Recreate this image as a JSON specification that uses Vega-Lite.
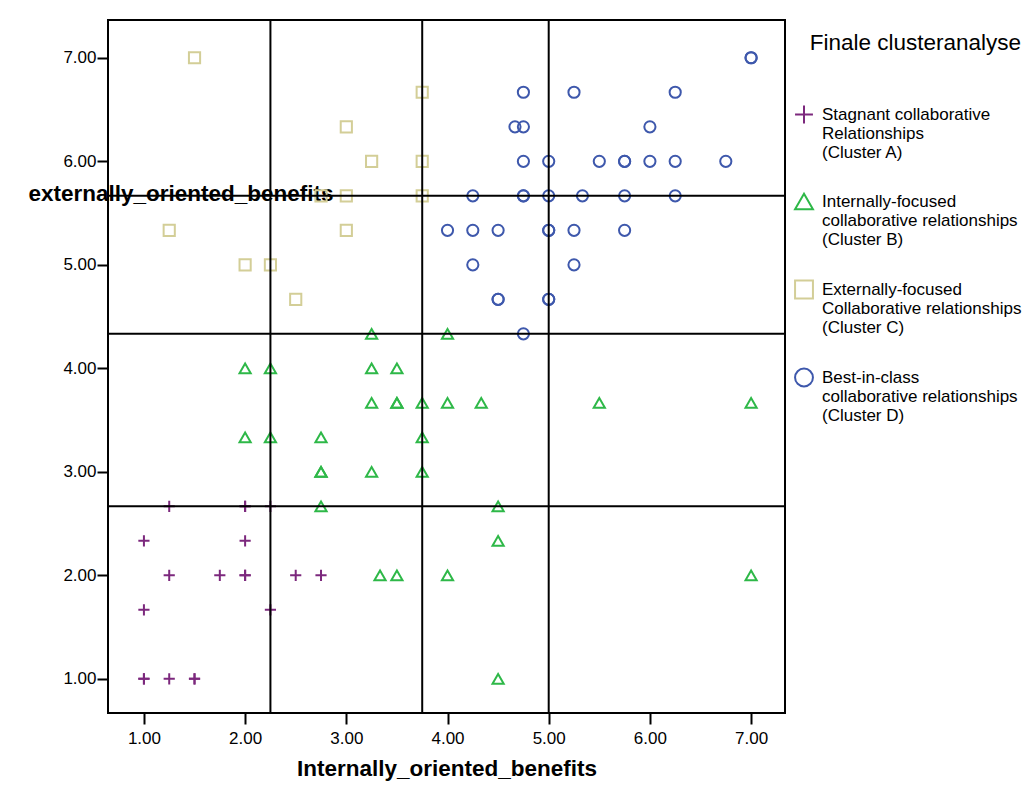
{
  "$schema": "https://vega.github.io/schema/vega-lite/v6.json",
  "width": 677,
  "height": 693,
  "autosize": {"type": "none"},
  "padding": {"left": 108, "top": 20, "right": 249, "bottom": 89},
  "background": "white",
  "config": {
    "font": "Liberation Sans",
    "view": {"stroke": "#000", "strokeWidth": 2},
    "axis": {
      "grid": false, "domain": false, "tickColor": "#000", "tickWidth": 2, "tickSize": 11,
      "labelColor": "#000", "labelFontSize": 17, "labelFont": "Liberation Sans",
      "titleColor": "#000", "titleFontSize": 22.5, "titleFontWeight": "bold", "titleFont": "Liberation Sans"
    },
    "legend": {
      "orient": "none", "legendX": 686, "legendY": 12, "padding": 0,
      "titleFontSize": 22.5, "titleFontWeight": "normal", "titleColor": "#000", "titleFont": "Liberation Sans",
      "titleAnchor": "end", "titlePadding": 50, "titleLimit": 0,
      "labelFontSize": 17, "labelColor": "#000", "labelLimit": 0, "labelOffset": 8, "labelFont": "Liberation Sans",
      "symbolSize": 320, "symbolStrokeWidth": 2, "rowPadding": 29
    }
  },
  "datasets": {
    "pts": [
      {"x": 1.25, "y": 2.6667, "c": "A"}, {"x": 2.0, "y": 2.6667, "c": "A"}, {"x": 2.0, "y": 2.6667, "c": "A"},
      {"x": 2.25, "y": 2.6667, "c": "A"}, {"x": 1.0, "y": 2.3333, "c": "A"}, {"x": 2.0, "y": 2.3333, "c": "A"},
      {"x": 1.25, "y": 2.0, "c": "A"}, {"x": 1.75, "y": 2.0, "c": "A"}, {"x": 2.0, "y": 2.0, "c": "A"},
      {"x": 2.0, "y": 2.0, "c": "A"}, {"x": 2.5, "y": 2.0, "c": "A"}, {"x": 2.75, "y": 2.0, "c": "A"},
      {"x": 1.0, "y": 1.6667, "c": "A"}, {"x": 2.25, "y": 1.6667, "c": "A"}, {"x": 1.0, "y": 1.0, "c": "A"},
      {"x": 1.0, "y": 1.0, "c": "A"}, {"x": 1.25, "y": 1.0, "c": "A"}, {"x": 1.5, "y": 1.0, "c": "A"},
      {"x": 1.5, "y": 1.0, "c": "A"},
      {"x": 3.25, "y": 4.3333, "c": "B"}, {"x": 4.0, "y": 4.3333, "c": "B"}, {"x": 2.0, "y": 4.0, "c": "B"},
      {"x": 2.25, "y": 4.0, "c": "B"}, {"x": 3.25, "y": 4.0, "c": "B"}, {"x": 3.5, "y": 4.0, "c": "B"},
      {"x": 3.25, "y": 3.6667, "c": "B"}, {"x": 3.5, "y": 3.6667, "c": "B"}, {"x": 3.5, "y": 3.6667, "c": "B"},
      {"x": 3.75, "y": 3.6667, "c": "B"}, {"x": 4.0, "y": 3.6667, "c": "B"}, {"x": 4.3333, "y": 3.6667, "c": "B"},
      {"x": 5.5, "y": 3.6667, "c": "B"}, {"x": 7.0, "y": 3.6667, "c": "B"}, {"x": 2.0, "y": 3.3333, "c": "B"},
      {"x": 2.25, "y": 3.3333, "c": "B"}, {"x": 2.75, "y": 3.3333, "c": "B"}, {"x": 3.75, "y": 3.3333, "c": "B"},
      {"x": 2.75, "y": 3.0, "c": "B"}, {"x": 2.75, "y": 3.0, "c": "B"}, {"x": 3.25, "y": 3.0, "c": "B"},
      {"x": 3.75, "y": 3.0, "c": "B"}, {"x": 2.75, "y": 2.6667, "c": "B"}, {"x": 4.5, "y": 2.6667, "c": "B"},
      {"x": 4.5, "y": 2.3333, "c": "B"}, {"x": 3.3333, "y": 2.0, "c": "B"}, {"x": 3.5, "y": 2.0, "c": "B"},
      {"x": 4.0, "y": 2.0, "c": "B"}, {"x": 7.0, "y": 2.0, "c": "B"}, {"x": 4.5, "y": 1.0, "c": "B"},
      {"x": 1.5, "y": 7.0, "c": "C"}, {"x": 3.75, "y": 6.6667, "c": "C"}, {"x": 3.0, "y": 6.3333, "c": "C"},
      {"x": 3.25, "y": 6.0, "c": "C"}, {"x": 3.75, "y": 6.0, "c": "C"}, {"x": 2.75, "y": 5.6667, "c": "C"},
      {"x": 3.0, "y": 5.6667, "c": "C"}, {"x": 3.75, "y": 5.6667, "c": "C"}, {"x": 1.25, "y": 5.3333, "c": "C"},
      {"x": 3.0, "y": 5.3333, "c": "C"}, {"x": 2.0, "y": 5.0, "c": "C"}, {"x": 2.25, "y": 5.0, "c": "C"},
      {"x": 2.5, "y": 4.6667, "c": "C"},
      {"x": 7.0, "y": 7.0, "c": "D"}, {"x": 7.0, "y": 7.0, "c": "D"}, {"x": 4.75, "y": 6.6667, "c": "D"},
      {"x": 5.25, "y": 6.6667, "c": "D"}, {"x": 6.25, "y": 6.6667, "c": "D"}, {"x": 4.6667, "y": 6.3333, "c": "D"},
      {"x": 4.75, "y": 6.3333, "c": "D"}, {"x": 6.0, "y": 6.3333, "c": "D"}, {"x": 4.75, "y": 6.0, "c": "D"},
      {"x": 5.0, "y": 6.0, "c": "D"}, {"x": 5.5, "y": 6.0, "c": "D"}, {"x": 5.75, "y": 6.0, "c": "D"},
      {"x": 5.75, "y": 6.0, "c": "D"}, {"x": 6.0, "y": 6.0, "c": "D"}, {"x": 6.25, "y": 6.0, "c": "D"},
      {"x": 6.75, "y": 6.0, "c": "D"}, {"x": 4.25, "y": 5.6667, "c": "D"}, {"x": 4.75, "y": 5.6667, "c": "D"},
      {"x": 4.75, "y": 5.6667, "c": "D"}, {"x": 5.0, "y": 5.6667, "c": "D"}, {"x": 5.3333, "y": 5.6667, "c": "D"},
      {"x": 5.75, "y": 5.6667, "c": "D"}, {"x": 6.25, "y": 5.6667, "c": "D"}, {"x": 4.0, "y": 5.3333, "c": "D"},
      {"x": 4.25, "y": 5.3333, "c": "D"}, {"x": 4.5, "y": 5.3333, "c": "D"}, {"x": 5.0, "y": 5.3333, "c": "D"},
      {"x": 5.0, "y": 5.3333, "c": "D"}, {"x": 5.25, "y": 5.3333, "c": "D"}, {"x": 5.75, "y": 5.3333, "c": "D"},
      {"x": 4.25, "y": 5.0, "c": "D"}, {"x": 5.25, "y": 5.0, "c": "D"}, {"x": 4.5, "y": 4.6667, "c": "D"},
      {"x": 4.5, "y": 4.6667, "c": "D"}, {"x": 5.0, "y": 4.6667, "c": "D"}, {"x": 5.0, "y": 4.6667, "c": "D"},
      {"x": 4.75, "y": 4.3333, "c": "D"}
    ],
    "vlines": [{"x": 2.25}, {"x": 3.75}, {"x": 5.0}],
    "hlines": [{"y": 5.6667}, {"y": 4.3333}, {"y": 2.6667}]
  },
  "layer": [
    {
      "data": {"name": "pts"},
      "mark": {"type": "point", "filled": false, "strokeWidth": 2, "opacity": 1, "size": 125},
      "encoding": {
        "x": {
          "field": "x", "type": "quantitative", "title": "Internally_oriented_benefits",
          "scale": {"domain": [0.645, 7.335], "nice": false, "zero": false},
          "axis": {"values": [1, 2, 3, 4, 5, 6, 7], "format": ".2f", "labelPadding": 6, "titlePadding": 11}
        },
        "y": {
          "field": "y", "type": "quantitative", "title": "externally_oriented_benefits",
          "scale": {"domain": [0.67, 7.365], "nice": false, "zero": false},
          "axis": {
            "values": [1, 2, 3, 4, 5, 6, 7], "format": ".2f", "labelPadding": 1,
            "titleAngle": 0, "titleAlign": "left", "titleBaseline": "middle", "titleX": -80, "titleY": 173
          }
        },
        "color": {
          "field": "c", "type": "nominal", "title": "Finale clusteranalyse",
          "scale": {"domain": ["A", "B", "C", "D"], "range": ["#7C287D", "#2EB848", "#D3CE97", "#3E58AC"]},
          "legend": {
            "labelExpr": "datum.value == 'A' ? ['Stagnant collaborative', 'Relationships', '(Cluster A)'] : datum.value == 'B' ? ['Internally-focused', 'collaborative relationships', '(Cluster B)'] : datum.value == 'C' ? ['Externally-focused', 'Collaborative relationships', '(Cluster C)'] : ['Best-in-class', 'collaborative relationships', ' (Cluster D)']"
          }
        },
        "shape": {
          "field": "c", "type": "nominal", "title": "Finale clusteranalyse",
          "scale": {"domain": ["A", "B", "C", "D"], "range": ["M-1,0H1M0,-1V1", "triangle-up", "square", "circle"]}
        }
      }
    },
    {
      "data": {"name": "vlines"},
      "mark": {"type": "rule", "color": "#000", "strokeWidth": 2},
      "encoding": {"x": {"field": "x", "type": "quantitative", "title": "Internally_oriented_benefits"}}
    },
    {
      "data": {"name": "hlines"},
      "mark": {"type": "rule", "color": "#000", "strokeWidth": 2},
      "encoding": {"y": {"field": "y", "type": "quantitative", "title": "externally_oriented_benefits"}}
    }
  ]
}
